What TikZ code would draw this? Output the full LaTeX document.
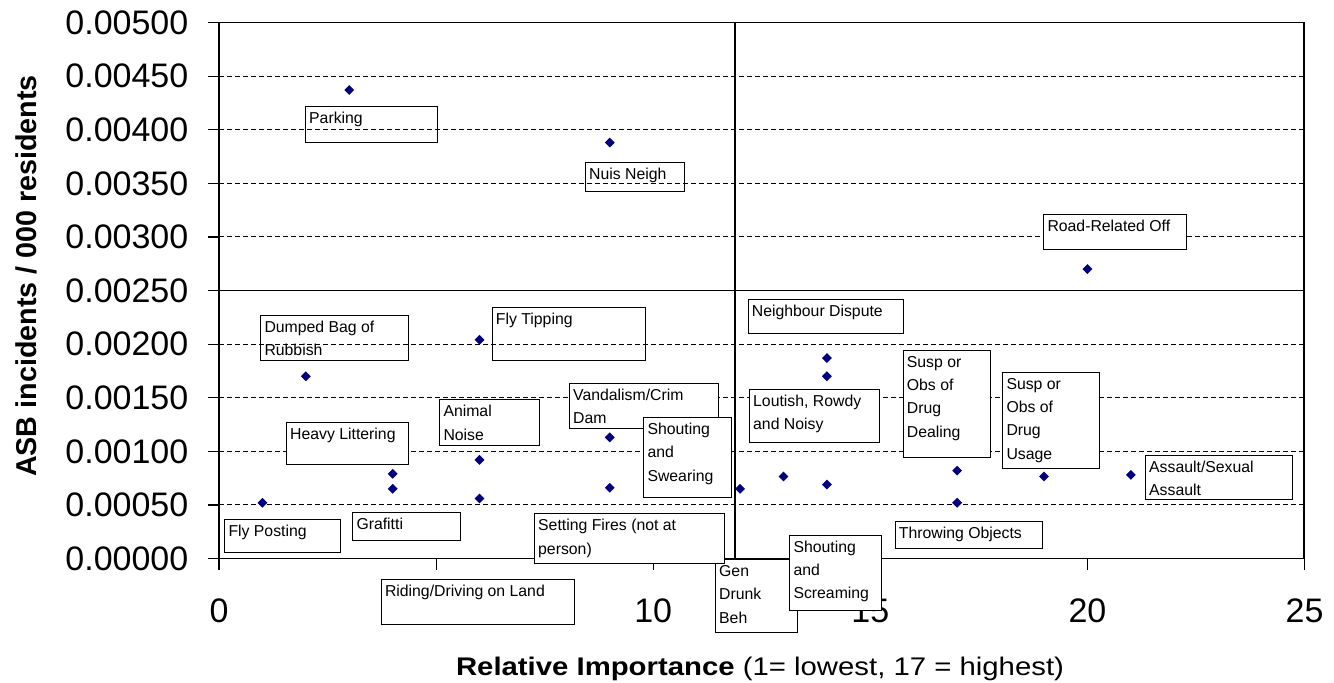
\documentclass[tikz,border=0pt]{standalone}
\usepackage{fontspec}
\usepackage{graphicx}
\setmainfont{Liberation Sans}
\usetikzlibrary{shapes.geometric}
\definecolor{ptnavy}{RGB}{0,0,128}
\newcommand{\lbtext}[3]{\parbox[c][#2pt][t]{\dimexpr#1pt-7.4pt\relax}{\raggedright\rule{0pt}{17pt}#3}}
\newcommand{\datpt}[3]{\node[datapt] (#1) at ({219+43.42*#2},{558.5-107.2*#3}) {};}
\newcommand{\lbbox}[7]{\node[#1] (#2) at (#3,#4) {\lbtext{\fpeval{#5-#3}}{\fpeval{#6-#4}}{#7}};}
\begin{document}
\begin{tikzpicture}[x=1pt,y=-1pt,
  gridl/.style={line width=0.9pt, dash pattern=on 4.5pt off 3.5pt},
  axisl/.style={line width=1.2pt},
  datapt/.style={diamond, fill=ptnavy, inner sep=0pt, minimum size=10pt},
  lbl/.style={draw, line width=1pt, fill=white, inner xsep=3.7pt, inner ysep=0pt, anchor=north west, font=\fontsize{15.8}{23.3}\selectfont},
  lblt/.style={lbl, fill=none},
  ytick/.style={anchor=east, inner sep=0pt, font=\fontsize{34}{40}\selectfont},
  xtick/.style={anchor=center, inner sep=0pt, font=\fontsize{34}{40}\selectfont}]
\fill[white] (0,0) rectangle (1334,683);
\useasboundingbox (0,0) rectangle (1334,683);
% grid lines
\foreach \v in {0.5,1,1.5,2,3,3.5,4,4.5}
  \draw[gridl] (219,{558.5-107.2*\v}) -- (1304,{558.5-107.2*\v});
% axes and frame
\draw[axisl] (208,22.5) -- (1304,22.5) -- (1304,558.5);
\draw[axisl] (219,22.5) -- (219,570);
\draw[axisl] (208,558.5) -- (1304,558.5);
\draw[axisl] (219,290.5) -- (1304,290.5);
\draw[axisl] (735,22.5) -- (735,558.5);
\foreach \i in {0,...,10}
  \draw[axisl] (208,{558.5-53.6*\i}) -- (219,{558.5-53.6*\i});
\foreach \i in {0,...,5}
  \draw[axisl] ({219+217.1*\i},558.5) -- ({219+217.1*\i},570);
% tick labels
\foreach \t [count=\i from 0] in {0.00000,0.00050,0.00100,0.00150,0.00200,0.00250,0.00300,0.00350,0.00400,0.00450,0.00500}
  \node[ytick] (yt\i) at (188.5,{558.5-53.6*\i}) {\t};
\foreach \t [count=\i from 0] in {0,5,10,15,20,25}
  \node[xtick] (xt\i) at ({219+217.1*\i},611) {\t};
% axis titles
\node[rotate=90, anchor=base, inner sep=0pt, font=\bfseries\fontsize{28.7}{32}\selectfont] (ylab) at (36,276) {ASB incidents / 000 residents};
\node[anchor=base, inner sep=0pt, font=\fontsize{25.5}{30}\selectfont] (xlab) at (760,675) {\scalebox{1.15}[1]{\textbf{Relative Importance} (1= lowest, 17 = highest)}};
% label boxes
\lbbox{lblt}{parking}{305}{106}{436.7}{142.3}{Parking}
\lbbox{lblt}{nuis}{585}{162.3}{684.3}{190.7}{Nuis Neigh}
\lbbox{lbl}{road}{1043.3}{214.3}{1186}{249}{Road-Related Off}
\lbbox{lblt}{dumped}{260.3}{314.7}{408.3}{360.3}{Dumped Bag of\\Rubbish}
\lbbox{lblt}{flytip}{491.7}{307.3}{645.3}{360.3}{Fly Tipping}
\lbbox{lbl}{neigh}{747.7}{299.3}{903.3}{332.7}{Neighbour Dispute}
\lbbox{lbl}{vandal}{569}{382.7}{717.7}{428}{Vandalism/Crim\\Dam}
\lbbox{lbl}{animal}{439.3}{399.3}{539.3}{445.3}{Animal\\Noise}
\lbbox{lbl}{heavy}{286}{421.7}{408.3}{464.3}{Heavy Littering}
\lbbox{lbl}{swear}{643.3}{417}{731}{497.3}{Shouting\\and\\Swearing}
\lbbox{lbl}{lout}{749}{388.7}{879.3}{442.3}{Loutish, Rowdy\\and Noisy}
\lbbox{lbl}{dealing}{902.7}{349.7}{990}{456.7}{Susp or\\Obs of\\Drug\\Dealing}
\lbbox{lbl}{usage}{1002.3}{371.7}{1099.3}{467.7}{Susp or\\Obs of\\Drug\\Usage}
\lbbox{lbl}{assault}{1145}{455}{1292.3}{499}{Assault/Sexual\\Assault}
\lbbox{lbl}{flypost}{224.3}{519}{340}{552.3}{Fly Posting}
\lbbox{lbl}{graf}{352.3}{511.7}{460.3}{539.7}{Grafitti}
\lbbox{lbl}{throw}{894.7}{521}{1042.3}{547.7}{Throwing Objects}
\lbbox{lbl}{drunk}{715}{559}{797}{632.3}{Gen\\Drunk\\Beh}
\lbbox{lbl}{fires}{534}{513.3}{724.3}{562.7}{Setting Fires (not at\\person)}
\lbbox{lbl}{scream}{789.3}{534.7}{881}{610}{Shouting\\and\\Screaming}
\lbbox{lbl}{riding}{380.8}{579}{573.8}{624.3}{Riding/Driving on Land}
% data points
\datpt{p1}{3}{4.37}
\datpt{p2}{9}{3.88}
\datpt{p3}{20}{2.70}
\datpt{p4}{2}{1.70}
\datpt{p5}{6}{2.04}
\datpt{p6}{4}{0.79}
\datpt{p7}{4}{0.65}
\datpt{p8}{1}{0.52}
\datpt{p9}{6}{0.92}
\datpt{p10}{6}{0.56}
\datpt{p11}{9}{1.13}
\datpt{p12}{9}{0.66}
\datpt{p13}{12}{0.65}
\datpt{p14}{13}{0.765}
\datpt{p15}{14}{0.69}
\datpt{p16}{14}{1.87}
\datpt{p17}{14}{1.70}
\datpt{p18}{17}{0.82}
\datpt{p19}{17}{0.52}
\datpt{p20}{19}{0.765}
\datpt{p21}{21}{0.78}
\end{tikzpicture}
\end{document}
